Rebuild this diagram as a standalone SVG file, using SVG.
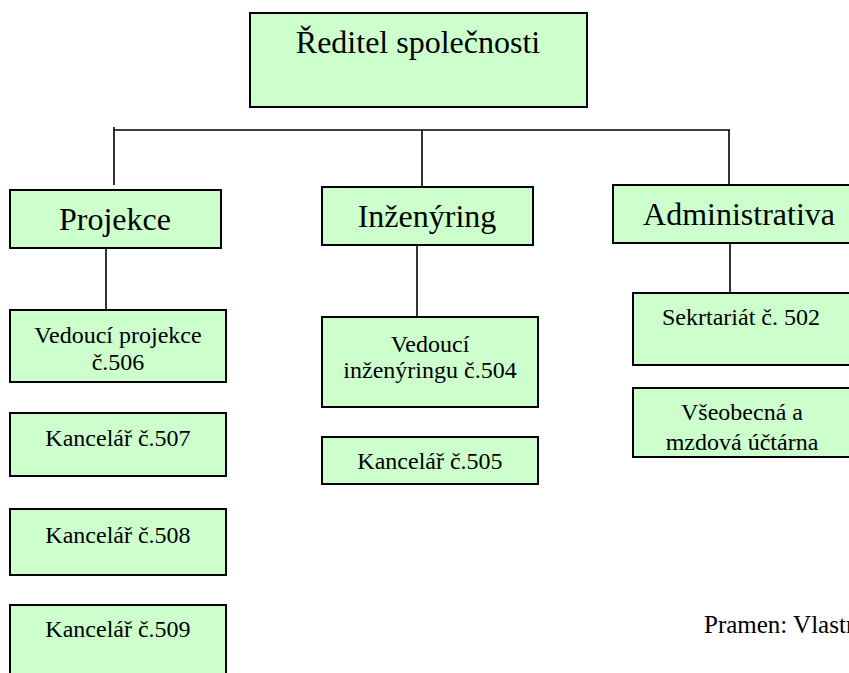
<svg xmlns="http://www.w3.org/2000/svg" width="849" height="673" viewBox="0 0 849 673">
<style>
.box{fill:#CCFFCC;stroke:#000;stroke-width:2}
.t{font-family:"Liberation Serif","Times New Roman",serif;font-size:24px;fill:#000;text-anchor:middle}
.big{font-size:32px}
.c{stroke:#000;stroke-width:1.6;fill:none}
</style>
<rect width="849" height="673" fill="#fff"/>
<g id="connectors">
<line class="c" x1="114" y1="130" x2="730" y2="130"/>
<line class="c" x1="114" y1="127" x2="114" y2="185"/>
<line class="c" x1="422" y1="130" x2="422" y2="187"/>
<line class="c" x1="729" y1="130" x2="729" y2="185"/>
<line class="c" x1="106" y1="248" x2="106" y2="310"/>
<line class="c" x1="417" y1="245" x2="417" y2="317"/>
<line class="c" x1="730" y1="243" x2="730" y2="293"/>
</g>
<g id="reditel">
<rect class="box" x="250" y="13" width="337" height="94"/>
<text class="t big" x="418" y="53">Ředitel společnosti</text>
</g>
<g id="projekce">
<rect class="box" x="10" y="190" width="211" height="58"/>
<text class="t big" x="115" y="230">Projekce</text>
</g>
<g id="inzenyring">
<rect class="box" x="322" y="187" width="211" height="58"/>
<text class="t big" x="427" y="227">Inženýring</text>
</g>
<g id="administrativa">
<rect class="box" x="613" y="185" width="252" height="58"/>
<text class="t big" x="739" y="225">Administrativa</text>
</g>
<g id="vedouci-projekce">
<rect class="box" x="10" y="310" width="216" height="72"/>
<text class="t" x="118" y="343">Vedoucí projekce</text>
<text class="t" x="118" y="370">č.506</text>
</g>
<g id="kancelar-507">
<rect class="box" x="10" y="413" width="216" height="63"/>
<text class="t" x="118" y="446">Kancelář č.507</text>
</g>
<g id="kancelar-508">
<rect class="box" x="10" y="509" width="216" height="66"/>
<text class="t" x="118" y="543">Kancelář č.508</text>
</g>
<g id="kancelar-509">
<rect class="box" x="10" y="605" width="216" height="80"/>
<text class="t" x="118" y="637">Kancelář č.509</text>
</g>
<g id="vedouci-inzenyringu">
<rect class="box" x="322" y="317" width="216" height="90"/>
<text class="t" x="430" y="352">Vedoucí</text>
<text class="t" x="430" y="378">inženýringu č.504</text>
</g>
<g id="kancelar-505">
<rect class="box" x="322" y="437" width="216" height="47"/>
<text class="t" x="430" y="469">Kancelář č.505</text>
</g>
<g id="sekretariat">
<rect class="box" x="633" y="293" width="220" height="72"/>
<text class="t" x="741" y="325">Sekrtariát č. 502</text>
</g>
<g id="uctarna">
<rect class="box" x="633" y="388" width="220" height="69"/>
<text class="t" x="742" y="420">Všeobecná a</text>
<text class="t" x="742" y="450">mzdová účtárna</text>
</g>
<text class="t" x="704" y="633" style="text-anchor:start;font-size:25px">Pramen: Vlastní</text>
</svg>
